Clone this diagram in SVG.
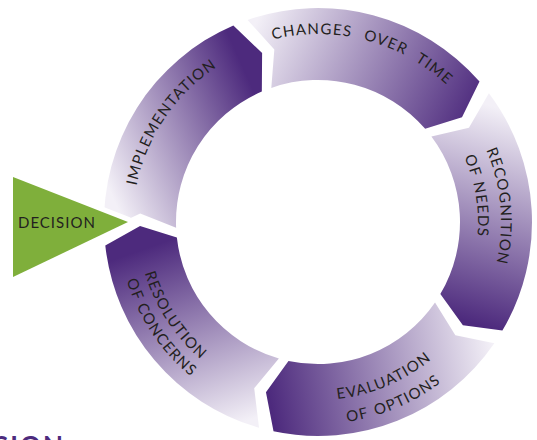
<svg xmlns="http://www.w3.org/2000/svg" width="537" height="440" viewBox="0 0 537 440">
<style>
.lbl{font-family:"Lato","Liberation Sans",sans-serif;font-size:15px;fill:#231f20;letter-spacing:1.2px}
.dec{font-family:"Lato","Liberation Sans",sans-serif;font-size:15px;fill:#231f20;letter-spacing:1px}
</style>
<defs>
<linearGradient id="gImpl" gradientUnits="userSpaceOnUse" x1="105" y1="180" x2="262" y2="110"><stop offset="0" stop-color="#f3f0f7"/><stop offset="1" stop-color="#4d2a7d"/></linearGradient>
<linearGradient id="gChg" gradientUnits="userSpaceOnUse" x1="255" y1="25" x2="470" y2="125"><stop offset="0" stop-color="#f3f0f7"/><stop offset="1" stop-color="#4d2a7d"/></linearGradient>
<linearGradient id="gRec" gradientUnits="userSpaceOnUse" x1="505" y1="110" x2="445" y2="315"><stop offset="0" stop-color="#f3f0f7"/><stop offset="1" stop-color="#4d2a7d"/></linearGradient>
<linearGradient id="gEval" gradientUnits="userSpaceOnUse" x1="495" y1="360" x2="270" y2="400"><stop offset="0" stop-color="#f3f0f7"/><stop offset="1" stop-color="#4d2a7d"/></linearGradient>
<linearGradient id="gRes" gradientUnits="userSpaceOnUse" x1="235" y1="425" x2="170" y2="240"><stop offset="0" stop-color="#f3f0f7"/><stop offset="1" stop-color="#4d2a7d"/></linearGradient>
<path id="pImpl" d="M151.44,302.52 A185,185 0 0 1 331.55,37.50"/>
<path id="pChg" d="M184.48,89.65 A188,188 0 0 1 499.38,172.55"/>
<path id="pRec1" d="M395.34,56.15 A183,183 0 0 1 422.96,371.90"/>
<path id="pRec2" d="M374.42,72.28 A160,160 0 0 1 419.54,345.65"/>
<path id="pEval1" d="M210.88,364.16 A178,178 0 0 0 494.67,243.69"/>
<path id="pEval2" d="M196.43,383.33 A202,202 0 0 0 518.50,246.62"/>
<path id="pRes1" d="M157.03,140.34 A180.5,180.5 0 0 0 327.76,402.24"/>
<path id="pRes2" d="M138.39,134.01 A200,200 0 0 0 331.60,421.54"/>
</defs>
<g id="connectors"></g>
<g id="implementation">
<path fill="url(#gImpl)" d="M104.17,230.59 A214,214 0 0 1 233.35,25.45 L262.11,53.00 L261.83,91.58 A142,142 0 0 0 176.11,227.70 L140.20,213.61 Z"/>
</g>
<g id="changes-over-time">
<path fill="url(#gChg)" d="M247.62,19.90 A214,214 0 0 1 479.51,81.60 L462.00,117.37 L425.17,128.84 A142,142 0 0 0 271.30,87.90 L274.33,49.44 Z"/>
</g>
<g id="recognition-of-needs">
<path fill="url(#gRec)" d="M488.91,93.21 A214,214 0 0 1 502.39,330.61 L462.91,325.36 L440.35,294.07 A142,142 0 0 0 431.41,136.54 L468.95,127.67 Z"/>
</g>
<g id="evaluation-of-options">
<path fill="url(#gEval)" d="M494.36,343.21 A214,214 0 0 1 273.51,431.32 L265.96,392.22 L288.48,360.90 A142,142 0 0 0 435.03,302.43 L455.35,335.22 Z"/>
</g>
<g id="resolution-of-concerns">
<path fill="url(#gRes)" d="M259.01,427.71 A214,214 0 0 1 105.29,245.48 L140.05,226.04 L176.86,237.58 A142,142 0 0 0 278.86,358.50 L254.21,388.18 Z"/>
</g>
<g id="decision">
<polygon points="13,177 13,277 128,222" fill="#7faf3b" stroke="#ffffff" stroke-width="10" stroke-linejoin="round"/>
<polygon points="13,177 13,277 128,222" fill="#7faf3b"/>
<text class="dec" x="18" y="228">DECISION</text>
</g>
<g id="labels">
<text class="lbl"><textPath href="#pImpl" startOffset="50%" text-anchor="middle">IMPLEMENTATION</textPath></text>
<text class="lbl" style="word-spacing:7px"><textPath href="#pChg" startOffset="50%" text-anchor="middle">CHANGES OVER TIME</textPath></text>
<text class="lbl"><textPath href="#pRec1" startOffset="50%" text-anchor="middle">RECOGNITION</textPath></text>
<text class="lbl"><textPath href="#pRec2" startOffset="50%" text-anchor="middle">OF NEEDS</textPath></text>
<text class="lbl"><textPath href="#pEval1" startOffset="50%" text-anchor="middle">EVALUATION</textPath></text>
<text class="lbl" style="word-spacing:2px"><textPath href="#pEval2" startOffset="50%" text-anchor="middle">OF OPTIONS</textPath></text>
<text class="lbl"><textPath href="#pRes1" startOffset="50%" text-anchor="middle">RESOLUTION</textPath></text>
<text class="lbl"><textPath href="#pRes2" startOffset="50%" text-anchor="middle">OF CONCERNS</textPath></text>
</g>
<text x="-6" y="455" font-family="Lato, 'Liberation Sans', sans-serif" font-size="26" font-weight="bold" fill="#4d2a7d" letter-spacing="2">SION</text>
</svg>
